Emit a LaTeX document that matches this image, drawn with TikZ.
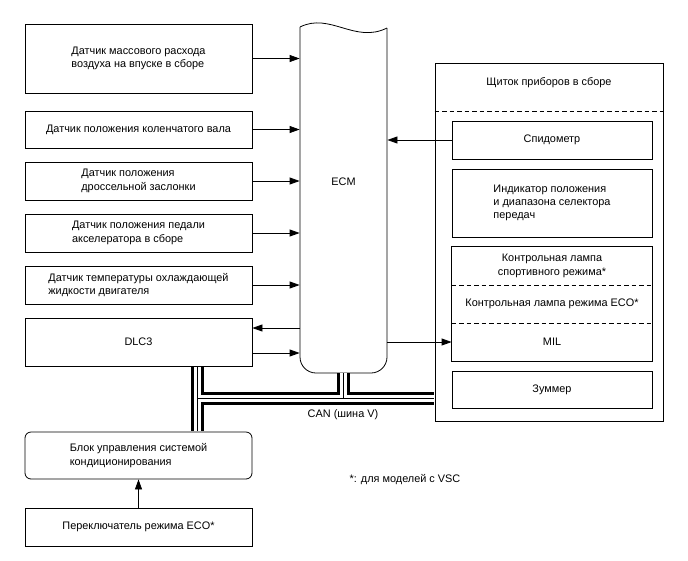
\documentclass[tikz,border=0pt]{standalone}
\usepackage{fontspec}
\setmainfont{Liberation Sans}
\usetikzlibrary{arrows.meta}

\begin{document}
\begin{tikzpicture}[x=1pt, y=-1pt, >={Triangle[length=10pt,width=7pt]}, line width=0.8pt,
    every node/.style={font=\fontsize{10.9}{13.3}\selectfont},
    box/.style={draw, minimum width=227pt, inner sep=0pt, align=left},
    panel/.style={draw, minimum width=200pt, inner sep=0pt, align=left},
    dashed/.style={dash pattern=on 4.5pt off 3pt}]
    \useasboundingbox (0,0) rectangle (688,560);

    % Датчики и блоки слева
    \node[box, minimum height=69pt] (maf) at (138.5,58.5) {Датчик массового расхода\\воздуха на впуске в сборе};
    \node[box, minimum height=37pt] (ckp) at (138.5,129.5) {Датчик положения коленчатого вала};
    \node[box, minimum height=38pt] (tps) at (138.5,181) {Датчик положения\\дроссельной заслонки};
    \node[box, minimum height=38pt] (app) at (138.5,233) {Датчик положения педали\\акселератора в сборе};
    \node[box, minimum height=38pt] (ect) at (138.5,285) {Датчик температуры охлаждающей\\жидкости двигателя};
    \node[box, minimum height=48pt] (dlc) at (138.5,342) {DLC3};
    \node[box, minimum height=47pt, rounded corners=6pt] (acu) at (138.5,455.5) {Блок управления системой\\кондиционирования};
    \node[box, minimum height=38pt] (ecosw) at (138.5,527) {Переключатель режима ECO*};

    % ECM (волнистый верх)
    \def\ecmL{300}
    \def\ecmR{387}
    \def\ecmB{373}
    \draw (\ecmL,27) .. controls (330,12) and (355,44) .. (\ecmR,28);
    \draw[rounded corners=16pt] (\ecmL,27) -- (\ecmL,\ecmB) -- (\ecmR,\ecmB) -- (\ecmR,28);
    \node[minimum width=87pt, inner sep=0pt] (ecm) at (343.5,182) {ECM};
    \coordinate (ecmbot) at (343.5,\ecmB);

    % Входы ECM
    \foreach \s in {maf,ckp,tps,app,ect}
        \draw[->] (\s.east) -- (\s.east -| ecm.west);
    \draw[<-] ([yshift=14pt]dlc.east) -- ([yshift=14pt]dlc.east -| ecm.west);
    \draw[->] ([yshift=-11pt]dlc.east) -- ([yshift=-11pt]dlc.east -| ecm.west);

    % Щиток приборов
    \node[draw, minimum width=228pt, minimum height=358pt, inner sep=0pt] (meter) at (549,242) {};
    \node (mtitle) at (549,83) {Щиток приборов в сборе};
    \coordinate (mdash) at (549,111);
    \draw[dashed] (meter.west |- mdash) -- (meter.east |- mdash);
    \node[panel, minimum height=38pt] (speedo) at (552,140) {Спидометр};
    \node[panel, minimum height=68pt] (ind) at (552,203) {Индикатор положения\\и диапазона селектора\\передач};
    \node[panel, draw=none, minimum height=38pt, align=center] (sport) at (552,266) {Контрольная лампа\\спортивного режима*};
    \node[panel, draw=none, minimum height=38pt] (ecolamp) at (552,304) {Контрольная лампа режима ECO*};
    \node[panel, draw=none, minimum height=38pt] (mil) at (552,342) {MIL};
    \draw (sport.north west) rectangle (mil.south east);
    \draw[dashed] (sport.south west) -- (sport.south east);
    \draw[dashed] (ecolamp.south west) -- (ecolamp.south east);
    \node[panel, minimum height=37pt] (buzzer) at (552,389.5) {Зуммер};

    \draw[<-] (ecm.east |- speedo.west) -- (speedo.west);
    \draw[->] (ecm.east |- mil.west) -- (mil.west);
    \draw[->] (ecosw.north) -- (acu.south);

    % Шина CAN
    \coordinate (canl) at (197,398.5);
    \coordinate (cane) at (ecm |- canl);
    \foreach \w/\c in {13pt/black, 7pt/white, 0.8pt/black} {
        \draw[line width=\w, \c, shorten <=0.4pt, shorten >=0.4pt] (canl |- dlc.south) -- (canl |- acu.north);
        \draw[line width=\w, \c, shorten >=0.4pt] (canl) -- (canl -| meter.west);
        \draw[line width=\w, \c, shorten <=0.4pt] (ecmbot) -- (cane);
    }
    \node (canlbl) at (343,415) {CAN (шина V)};
    \node (note) at (405,480) {*: для моделей с VSC};
\end{tikzpicture}
\end{document}
